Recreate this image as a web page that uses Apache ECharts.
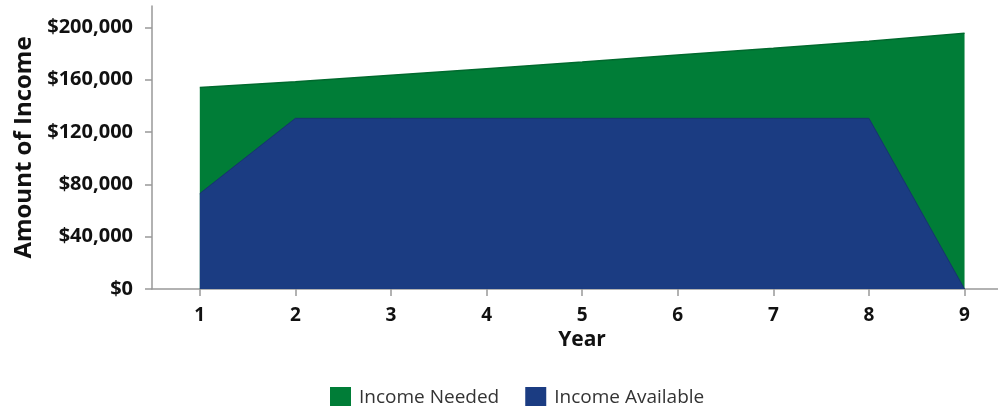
<!DOCTYPE html>
<html style="height: 100%">

<head>
    <meta charset="utf-8">
</head>

<body style="height: 100%; margin: 0">
    <div id="container" style="width: 998px; height: 406px"></div>
    <script src="https://cdn.jsdelivr.net/npm/echarts@6/dist/echarts.min.js"></script>
    <script type="text/javascript">
        var years = [1, 2, 3, 4, 5, 6, 7, 8, 9];
        var incomeNeeded = [154000, 158500, 163500, 168500, 173500, 179000, 184000, 189500, 195500];
        var incomeAvailable = [73000, 130500, 130500, 130500, 130500, 130500, 130500, 130500, 0];
        var yTicks = [0, 40000, 80000, 120000, 160000, 200000];

        var font = '"Open Sans", "DejaVu Sans", sans-serif';
        var dom = document.getElementById("container");
        var myChart = echarts.init(dom);

        function pairs(vals) {
            return years.map(function (y, i) { return [y, vals[i]]; });
        }

        var option = {
            animation: false,
            grid: { left: 152, right: 0, top: 6, bottom: 117 },
            legend: {
                left: 325,
                top: 382,
                itemWidth: 21,
                itemHeight: 21,
                itemGap: 26,
                icon: 'rect',
                textStyle: { fontFamily: font, fontSize: 19, color: '#333', padding: [0, 0, 0, 3] },
                data: ['Income Needed', 'Income Available']
            },
            xAxis: {
                type: 'value',
                min: 0.5,
                max: 9.35,
                name: 'Year',
                nameLocation: 'middle',
                nameGap: 41,
                nameTextStyle: { fontFamily: font, fontSize: 21, fontWeight: 'bold', color: '#111', padding: [0, 0, 0, 14] },
                splitLine: { show: false },
                axisLine: { lineStyle: { color: '#999', width: 1.5 } },
                axisTick: { length: 7, customValues: years, lineStyle: { color: '#999', width: 1.5 } },
                axisLabel: {
                    customValues: years, margin: 17,
                    fontFamily: font, fontSize: 19, fontWeight: 'bold', color: '#111'
                }
            },
            yAxis: {
                type: 'value',
                min: 0,
                max: 216400,
                name: 'Amount of Income',
                nameLocation: 'middle',
                nameGap: 116,
                nameTextStyle: { fontFamily: font, fontSize: 24, fontWeight: 'bold', color: '#111' },
                splitLine: { show: false },
                axisLine: { show: true, lineStyle: { color: '#999', width: 1.5 } },
                axisTick: { show: true, length: 7, customValues: yTicks, lineStyle: { color: '#999', width: 1.5 } },
                axisLabel: {
                    customValues: yTicks, margin: 19,
                    fontFamily: font, fontSize: 20, fontWeight: 'bold', color: '#111',
                    formatter: function (v) { return '$' + v.toLocaleString('en-US'); }
                }
            },
            series: [{
                name: 'Income Needed',
                type: 'line',
                data: pairs(incomeNeeded),
                symbol: 'none',
                z: 2,
                itemStyle: { color: '#007d37' },
                lineStyle: { color: '#006a2e', width: 1.5 },
                areaStyle: { color: '#007d37', opacity: 1 }
            }, {
                name: 'Income Available',
                type: 'line',
                data: pairs(incomeAvailable),
                symbol: 'none',
                z: 3,
                itemStyle: { color: '#1b3c82' },
                lineStyle: { color: '#173470', width: 1 },
                areaStyle: { color: '#1b3c82', opacity: 1 }
            }]
        };

        myChart.setOption(option);
    </script>
</body>

</html>
